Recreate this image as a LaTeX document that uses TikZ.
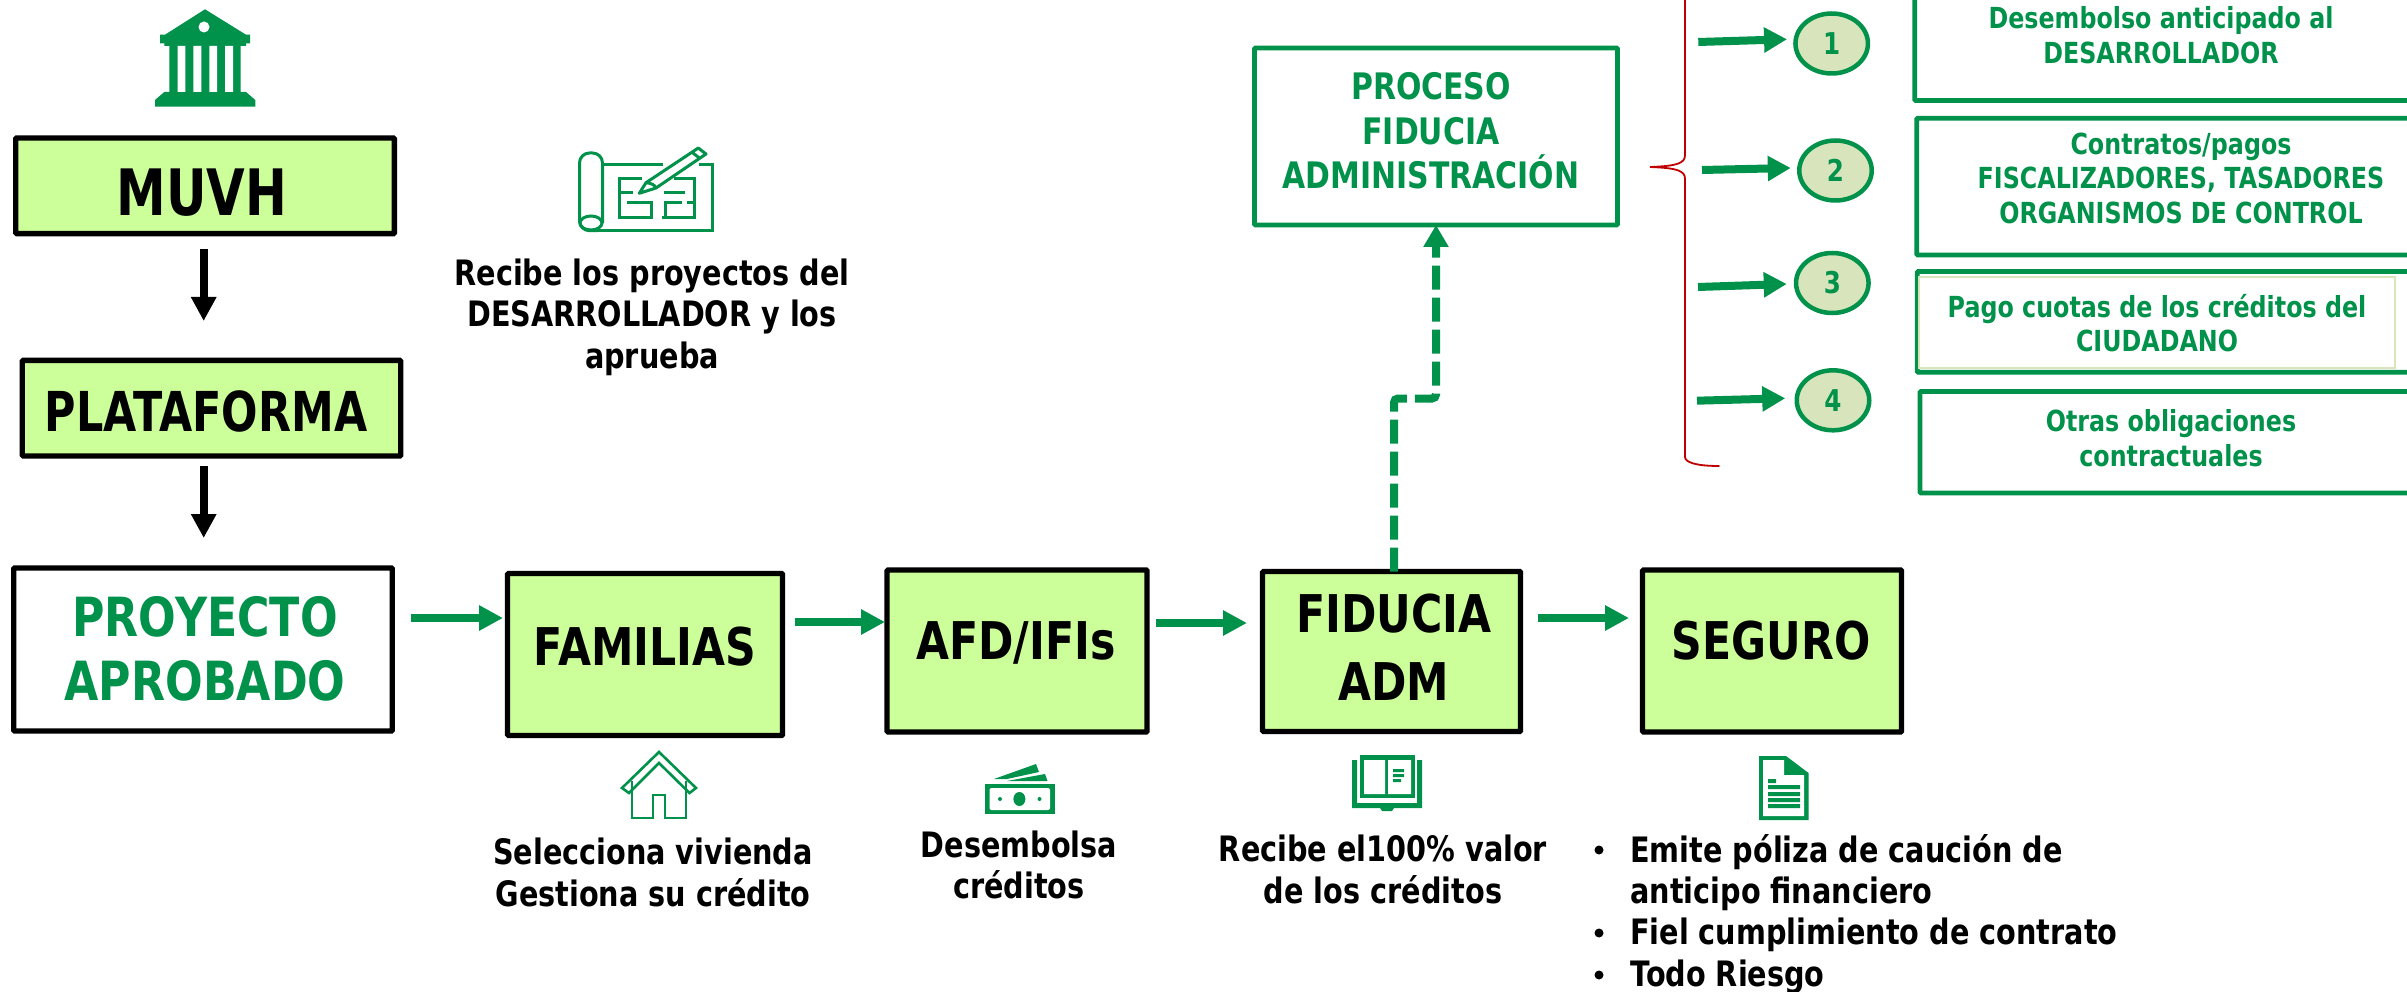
\documentclass[tikz,border=0pt]{standalone}
\usepackage{fontspec}
\setmainfont[FakeStretch=0.82]{DejaVu Sans}
\newfontfamily\narrowfont[FakeStretch=0.78]{DejaVu Sans}
\usetikzlibrary{arrows.meta,shapes.geometric}
\definecolor{vgreen}{HTML}{00924A}
\definecolor{lime}{HTML}{CCFF99}
\definecolor{pale}{HTML}{D8E4BC}
\definecolor{bracered}{HTML}{C00000}
\tikzset{
  flowbox/.style={draw=black,fill=lime,line width=5.3pt,rectangle,rounded corners=1pt,inner sep=0pt,outer sep=0pt},
  whitebox/.style={flowbox,fill=white},
  greenbox/.style={draw=vgreen,fill=white,line width=4.8pt,rectangle,rounded corners=1pt,inner sep=0pt,outer sep=0pt},
  boxlabel/.style={inner sep=0pt,align=center,text=black},
  greenlabel/.style={boxlabel,text=vgreen},
  numdot/.style={draw=vgreen,fill=pale,line width=4.5pt,ellipse,inner sep=0pt,outer sep=0pt,minimum width=72.5pt,minimum height=60pt,text=vgreen,font=\bfseries\fontsize{30}{32}\selectfont},
  blackarrow/.style={draw=black,line width=8pt,-{Triangle[width=24pt,length=24pt]}},
  flowarrow/.style={draw=vgreen,line width=8pt,-{Triangle[width=24pt,length=24pt]}},
  smallarrow/.style={draw=vgreen,line width=8pt,-{Triangle[width=24pt,length=23pt]}},
  dasharrow/.style={draw=vgreen,line width=8pt,rounded corners=4pt,dash pattern=on 24pt off 8pt,-{Triangle[width=24pt,length=22pt]}},
  blacknote/.style={font=\bfseries\fontsize{35}{41.5}\selectfont,align=center,inner sep=0pt,text=black},
  greennote/.style={font=\bfseries\fontsize{29}{34.5}\selectfont,align=center,inner sep=0pt,text=vgreen},
  bulletnote/.style={font=\bfseries\fontsize{35}{41.5}\selectfont,anchor=west,inner sep=0pt,text=black},
  icon/.style={draw=vgreen,line width=2.6pt,line join=miter,fill=none},
  solidicon/.style={fill=vgreen,draw=none},
}
\begin{document}
\begin{tikzpicture}[x=1pt,y=-1pt]
\clip (0,0) rectangle (2407,992);
\fill[white] (0,0) rectangle (2407,992);

% left column
\node[flowbox,minimum width=378.7pt,minimum height=95.7pt] (muvh) at (205,185.8) {};
\node[boxlabel,font=\narrowfont\bfseries\fontsize{64}{70}\selectfont] (muvhl) at (202,193) {MUVH};
\node[flowbox,minimum width=378.4pt,minimum height=95.7pt] (plat) at (211.5,408.2) {};
\node[boxlabel,font=\narrowfont\bfseries\fontsize{55}{60}\selectfont] (platl) at (206,411.3) {PLATAFORMA};
\node[whitebox,minimum width=378.6pt,minimum height=163pt] (proy) at (203,649.5) {};
\node[greenlabel,font=\bfseries\fontsize{54}{64}\selectfont] (proyl) at (205,649) {PROYECTO\\APROBADO};

% main row
\node[flowbox,minimum width=275pt,minimum height=162pt] (fam) at (645,654.5) {};
\node[boxlabel,font=\bfseries\fontsize{52}{60}\selectfont] (faml) at (645,646.5) {FAMILIAS};
\node[flowbox,minimum width=260pt,minimum height=162pt] (afd) at (1017,651) {};
\node[boxlabel,font=\bfseries\fontsize{52}{60}\selectfont] (afdl) at (1016,643) {AFD/IFIs};
\node[flowbox,minimum width=258pt,minimum height=160pt] (fid) at (1391.5,651.5) {};
\node[boxlabel,font=\bfseries\fontsize{52}{68}\selectfont] (fidl) at (1394,647) {FIDUCIA\\ADM};
\node[flowbox,minimum width=259pt,minimum height=162pt] (seg) at (1772,651) {};
\node[boxlabel,font=\bfseries\fontsize{52}{60}\selectfont] (segl) at (1771,641) {SEGURO};
\node[greenbox,minimum width=363pt,minimum height=177pt] (proc) at (1436,136.5) {};
\node[greenlabel,font=\bfseries\fontsize{36.5}{44.5}\selectfont] (procl) at (1431,131) {PROCESO\\FIDUCIA\\ADMINISTRACIÓN};

% connectors
\draw[blackarrow] ([xshift=-1.3pt,yshift=-15.65pt]muvh.south) -- ([xshift=-7.8pt,yshift=39.35pt]plat.north);
\draw[blackarrow] ([xshift=-7.8pt,yshift=-10.25pt]plat.south) -- ([xshift=0.7pt,yshift=30pt]proy.north);
\draw[flowarrow] ([xshift=18.7pt,yshift=31.5pt]proy.east) -- ([xshift=-4.5pt,yshift=36.5pt]fam.west);
\draw[flowarrow] ([xshift=12.5pt,yshift=32.5pt]fam.east) -- ([xshift=-2pt,yshift=29pt]afd.west);
\draw[flowarrow] ([xshift=9pt,yshift=28pt]afd.east) -- ([xshift=-15.5pt,yshift=28.5pt]fid.west);
\draw[flowarrow] ([xshift=17.5pt,yshift=33.5pt]fid.east) -- ([xshift=-13.5pt,yshift=33pt]seg.west);
\draw[dasharrow] ([xshift=2.5pt]fid.north) -- ++(0,-173) -| (proc.south);

% brace
\draw[bracered,line width=1.8pt,line cap=round] (1685,-10) -- (1685,155) .. controls (1685,163) and (1678,166) .. (1650,167) .. controls (1678,168) and (1685,171) .. (1685,179) -- (1685,457) .. controls (1685,462) and (1695,466) .. (1719,466);

% numbered steps
\node[numdot] (n1) at (1831.7,43.5) {1};
\node[numdot] (n2) at (1835.5,170.5) {2};
\node[numdot] (n3) at (1832.3,283) {3};
\node[numdot] (n4) at (1833,400.3) {4};
\coordinate (a1) at (1698.3,42);
\coordinate (a2) at (1702,170);
\coordinate (a3) at (1698,287);
\coordinate (a4) at (1697,400.7);
\draw[smallarrow] (a1) -- ([shift={(-8.4pt,4.2pt)}]n1.west);
\draw[smallarrow] (a2) -- ([shift={(-8.5pt,2.5pt)}]n2.west);
\draw[smallarrow] (a3) -- ([shift={(-9.3pt,-1pt)}]n3.west);
\draw[smallarrow] (a4) -- ([shift={(-11.5pt,2pt)}]n4.west);

% right boxes
\node[greenbox,minimum width=525pt,minimum height=140.5pt] (b1) at (2177.3,30.25) {};
\node[greenbox,minimum width=525pt,minimum height=136.8pt] (b2) at (2179.3,186.6) {};
\node[greenbox,minimum width=525pt,minimum height=100.8pt] (b3) at (2179.8,321.9) {};
\draw[pale,line width=2pt] (1919.3,276.7) rectangle (2395,368.3);
\node[greenbox,minimum width=525pt,minimum height=101.5pt] (b4) at (2182.5,442.25) {};
\node[greennote] (t1) at (2161,35) {Desembolso anticipado al\\DESARROLLADOR};
\node[greennote] (t2) at (2181,178) {Contratos/pagos\\FISCALIZADORES, TASADORES\\ORGANISMOS DE CONTROL};
\node[greennote] (t3) at (2157,323) {Pago cuotas de los créditos del\\CIUDADANO};
\node[greennote] (t4) at (2171,438) {Otras obligaciones\\contractuales};

% notes
\node[blacknote] (r1) at (652,317) {Recibe los proyectos del\\DESARROLLADOR y los\\aprueba};
\node[blacknote] (r2) at (653,872.5) {Selecciona vivienda\\Gestiona su crédito};
\node[blacknote] (r3) at (1019,865) {Desembolsa\\créditos};
\node[blacknote] (r4) at (1383,869.5) {Recibe el100\% valor\\de los créditos};
\node[bulletnote] (s1) at (1630,852) {Emite póliza de caución de};
\node[bulletnote] (s2) at (1630,894) {anticipo financiero};
\node[bulletnote] (s3) at (1630,935) {Fiel cumplimiento de contrato};
\node[bulletnote] (s4) at (1630,977) {Todo Riesgo};
\fill[black] (1599,850) circle (4.5pt) (1599,933) circle (4.5pt) (1599,975) circle (4.5pt);

% bank icon
\fill[solidicon] (205,9.3) -- (246,34.7) -- (250,34.7) -- (250,43.3) -- (246,43.3) -- (246,46) -- (240.7,46) -- (240.7,92) -- (246,92) -- (255.3,100) -- (255.3,106.7) -- (155,106.7) -- (155,100) -- (164.3,92) -- (169.3,92) -- (169.3,46) -- (164.3,46) -- (164.3,43.3) -- (160,43.3) -- (160,34.7) -- (165,34.7) -- cycle;
\fill[white] (204,27) circle (5.5pt);
\fill[white] (177.7,46) rectangle (185.3,92) (193.3,46) rectangle (201.3,92) (209.3,46) rectangle (217,92) (225,46) rectangle (233,92);

% blueprint icon
\draw[icon,line width=3pt,rounded corners=10pt] (602.5,223) -- (602.5,153) -- (579.5,153) -- (579.5,230.7) -- (598,230.7);
\draw[icon,line width=3pt] (591,223) ellipse (11pt and 7pt);
\draw[icon,line width=3pt] (598,230.7) -- (712.7,230.7) -- (712.7,165) -- (699,165);
\draw[icon,line width=3pt] (602.5,165) -- (663,165);
\draw[icon,line width=3pt] (641.6,179) -- (619.3,179) -- (619.3,218) -- (651,218) -- (651,203) -- (627,203);
\draw[icon,line width=3pt] (619.3,193) -- (633,193);
\draw[icon,line width=3pt] (674,179) -- (694,179) -- (694,218) -- (662,218);
\draw[icon,line width=3pt] (665,218) -- (665,203) -- (682,203) (687,203) -- (694,203);
\draw[icon,line width=3pt] (664,193) -- (685,193);
\draw[icon,line width=3pt,fill=white,line join=round] (639.3,193.3) -- (646,182.7) -- (698.3,148) -- (706,154) -- (656,188) -- cycle;
\draw[icon,line width=3pt] (691.7,152) -- (699.3,158);
\draw[icon,line width=3pt] (646,182.7) .. controls (651,183) and (655,185) .. (656,188);

% house icon
\draw[icon] (659,752) -- (696,788) -- (689.5,793) -- (659,763) -- (629,793) -- (622,788) -- cycle;
\draw[icon] (632,781) -- (632,818) -- (653,818) -- (653,795) -- (665,795) -- (665,818) -- (686,818) -- (686,781);

% money icon
\fill[solidicon] (985,784) rectangle (1055,814);
\fill[white,rounded corners=2pt] (989.5,788) rectangle (1050,810);
\fill[solidicon] (1019.4,799) ellipse (6pt and 7pt) (1000,799) circle (2pt) (1039.5,799) circle (2pt);
\fill[solidicon] (994,779) -- (1036,764) -- (1039,772) -- (1007,779) -- cycle;
\fill[solidicon] (1007,781) -- (1045,774) -- (1047.5,781) -- cycle;

% book icon
\fill[solidicon] (1360,755) rectangle (1415,798);
\fill[white] (1364,760) rectangle (1385,794) (1388,760) rectangle (1411,794);
\fill[solidicon] (1393,769) rectangle (1404,772) (1393,774) rectangle (1404,777) (1393,779) rectangle (1401,782);
\fill[solidicon] (1352,760) -- (1357,760) -- (1357,803) -- (1417,803) -- (1417,760) -- (1422,760) -- (1422,808) -- (1394,808) -- (1392,811) -- (1382,811) -- (1380,808) -- (1352,808) -- cycle;

% document icon
\fill[solidicon] (1759,756) -- (1786,756) -- (1808.5,773) -- (1808.5,820) -- (1759,820) -- cycle;
\fill[white] (1763,760) -- (1784,760) -- (1784,775) -- (1804,775) -- (1804,816) -- (1763,816) -- cycle;
\fill[solidicon] (1768,779) rectangle (1776,783) (1768,785) rectangle (1800,789) (1768,792) rectangle (1800,796) (1768,798) rectangle (1800,802) (1768,804) rectangle (1800,808);
\end{tikzpicture}
\end{document}
